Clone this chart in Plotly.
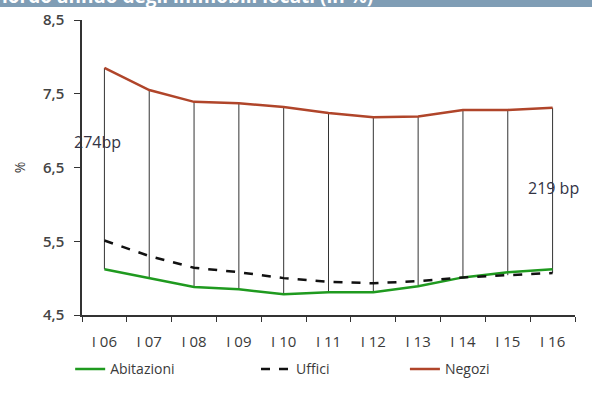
import plotly.graph_objects as go

categories = ["I 06", "I 07", "I 08", "I 09", "I 10", "I 11", "I 12", "I 13", "I 14", "I 15", "I 16"]
abitazioni = [5.12, 5.00, 4.88, 4.85, 4.78, 4.81, 4.81, 4.89, 5.01, 5.08, 5.12]
uffici = [5.51, 5.30, 5.14, 5.08, 5.00, 4.95, 4.93, 4.96, 5.01, 5.04, 5.07]
negozi = [7.85, 7.55, 7.39, 7.37, 7.32, 7.24, 7.18, 7.19, 7.28, 7.28, 7.31]
y_ticks = [4.5, 5.5, 6.5, 7.5, 8.5]
spread_labels = ["274bp", "219 bp"]

FONT = "Open Sans"
TXT = "#3a3a3a"
PLOT_H = 296.0

# high-low connector lines
hx, hy = [], []
for c, a, u, n in zip(categories, abitazioni, uffici, negozi):
    hx += [c, c, None]
    hy += [max(a, u, n), min(a, u, n), None]

fig = go.Figure()
fig.add_trace(go.Scatter(x=hx, y=hy, mode="lines", line=dict(color="#333333", width=1),
                         showlegend=False, hoverinfo="skip"))
fig.add_trace(go.Scatter(x=categories, y=abitazioni, mode="lines", name="Abitazioni",
                         line=dict(color="#1f9a1f", width=2.5), legend="legend"))
fig.add_trace(go.Scatter(x=categories, y=uffici, mode="lines", name="Uffici",
                         line=dict(color="#111111", width=2.5, dash="dash"), legend="legend2"))
fig.add_trace(go.Scatter(x=categories, y=negozi, mode="lines", name="Negozi",
                         line=dict(color="#b0452a", width=2.5), legend="legend3"))

fig.add_annotation(x=categories[0], y=6.84, text=spread_labels[0], showarrow=False,
                   font=dict(family=FONT, size=16, color="#333344"), xanchor="center", xshift=-7)
fig.add_annotation(x=categories[-1], y=6.22, text=spread_labels[1], showarrow=False,
                   font=dict(family=FONT, size=16, color="#333344"), xanchor="center", xshift=1)

# title bar (cut off at top)
fig.add_shape(type="rect", xref="paper", yref="paper", x0=-0.2, x1=1.1,
              y0=1 + 13 / PLOT_H, y1=1 + 40 / PLOT_H,
              fillcolor="#7f9db5", line=dict(width=0), layer="above")
fig.add_annotation(xref="paper", yref="paper", x=-0.166, y=1 + 24 / PLOT_H, xanchor="left",
                   yanchor="middle",
                   text="<b>lordo annuo degli immobili locati (in %)</b>", showarrow=False,
                   font=dict(family=FONT, size=19, color="white"))

leg_common = dict(orientation="h", xanchor="left", y=-0.18, yanchor="middle",
                  font=dict(family=FONT, size=14, color=TXT), bgcolor="rgba(0,0,0,0)")

fig.update_layout(
    width=592, height=396,
    margin=dict(l=82, r=17, t=20, b=80),
    paper_bgcolor="white", plot_bgcolor="white",
    separators=",.",
    font=dict(family=FONT, size=14, color=TXT),
    showlegend=True,
    legend=dict(x=-0.024, **leg_common),
    legend2=dict(x=0.353, **leg_common),
    legend3=dict(x=0.655, **leg_common),
    xaxis=dict(type="category", categoryorder="array", categoryarray=categories,
               tickson="boundaries", ticks="outside", ticklen=5, tickcolor="#333",
               showline=True, linecolor="#333", linewidth=1.5, showgrid=False,
               automargin=False, ticklabelstandoff=12,
               tickfont=dict(family=FONT, size=15, color=TXT), range=[-0.5, 10.5]),
    yaxis=dict(range=[4.5, 8.5], tickvals=y_ticks, tickformat=".1f",
               ticks="outside", ticklen=6, tickcolor="#333", showline=True, linecolor="#333",
               linewidth=1.5, showgrid=False, zeroline=False, automargin=False,
               ticklabelstandoff=7,
               tickfont=dict(family=FONT, size=15, color="#444444", weight=600),
               title=dict(text="%", font=dict(family=FONT, size=14, color=TXT), standoff=14)),
)

fig.write_html("out.html", config={"displayModeBar": False},
               post_script="document.body.style.margin='0';")
